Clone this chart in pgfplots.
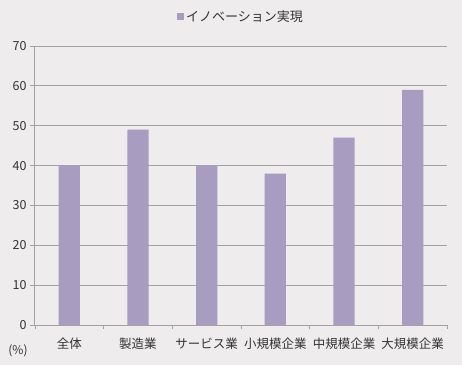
\documentclass[border=0pt]{standalone}
\usepackage{fontspec}
\setmainfont{Noto Sans CJK JP}
\usepackage{pgfplots}
\pgfplotsset{compat=1.18}
\definecolor{bg}{HTML}{EEECED}
\definecolor{barc}{HTML}{A99CC1}
\definecolor{gridc}{HTML}{A3A3A3}
\definecolor{txt}{HTML}{333333}
\begin{document}
\begin{tikzpicture}
\fill[bg] (-35pt,-40pt) rectangle (427pt,325pt);
\useasboundingbox (-35pt,-40pt) rectangle (427pt,325pt);
\begin{axis}[
  at={(0pt,0pt)}, anchor=south west,
  scale only axis, width=412pt, height=279pt,
  ymin=0, ymax=70, ytick={0,10,...,70},
  xmin=-0.5, xmax=5.5,
  xtick={0,...,5},
  xticklabels={全体,製造業,サービス業,小規模企業,中規模企業,大規模企業},
  minor xtick={-0.5,0.5,1.5,2.5,3.5,4.5,5.5},
  major x tick style={draw=none},
  minor x tick style={draw=gridc, line width=0.8pt},
  y tick style={draw=gridc, line width=0.8pt},
  tick align=outside,
  major tick length=5pt, minor tick length=4pt,
  ymajorgrids, grid style={gridc, line width=0.8pt},
  axis x line*=bottom, axis y line*=left,
  axis line style={gridc, line width=1pt, -},
  x axis line style={-}, y axis line style={-},
  ticklabel style={font=\fontsize{12.5}{14}\selectfont, text=txt},
  xticklabel style={font=\fontsize{12.5}{14}\selectfont, text=txt, yshift=-4pt},
  /pgf/number format/assume math mode=true,
  ybar, bar width=0.31,
  axis background/.style={fill=bg},
  legend style={at={(0.5,1.0)}, yshift=40pt, anchor=north, draw=none, fill=none,
    font=\fontsize{13}{15}\selectfont, text=txt},
  legend image code/.code={\fill[barc] (0pt,-3.5pt) rectangle (7pt,3.5pt);},
  clip=false,
]
\addplot[fill=barc, draw=none] coordinates {(0,40) (1,49) (2,40) (3,38) (4,47) (5,59)};
\addlegendentry{イノベーション実現}
\node[anchor=center, text=txt, font=\fontsize{12}{14}\selectfont] at (rel axis cs:0,0) [xshift=-17pt, yshift=-26pt] {(\%)};
\end{axis}
\end{tikzpicture}
\end{document}
